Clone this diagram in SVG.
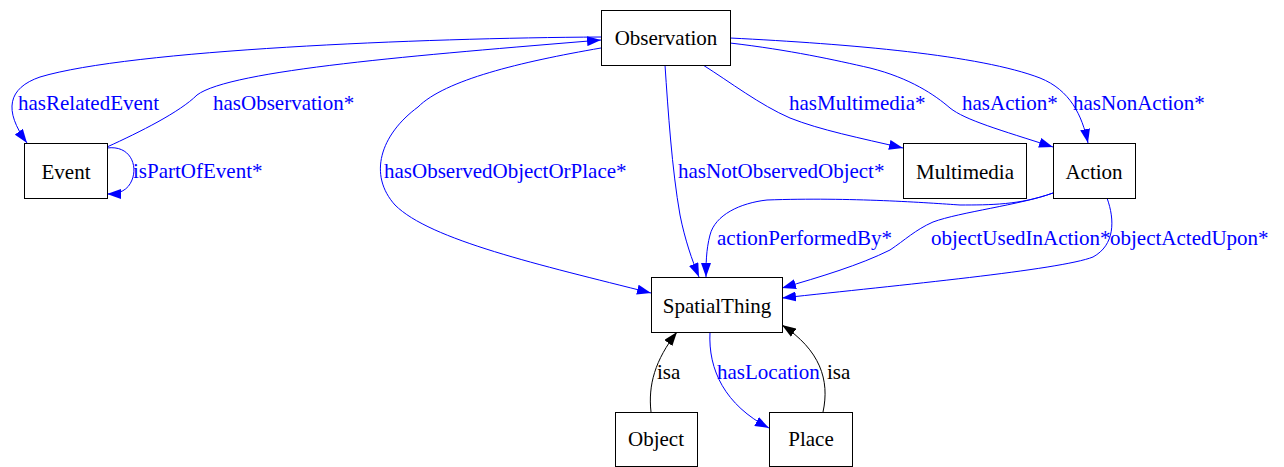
<svg xmlns="http://www.w3.org/2000/svg" width="1284" height="467" viewBox="0 0 1284 467">
<style>
.node rect{fill:#fff;stroke:#000;stroke-width:1}
.node text{font-family:"Liberation Serif","Times New Roman",serif;font-size:21px;fill:#000;text-anchor:middle}
.e{fill:none;stroke:#0000ff;stroke-width:1}
.k{fill:none;stroke:#000;stroke-width:1}
.lb{font-family:"Liberation Serif","Times New Roman",serif;font-size:21px;fill:#0000ff}
.lk{font-family:"Liberation Serif","Times New Roman",serif;font-size:21px;fill:#000}
</style>
<defs>
<marker id="ab" markerUnits="userSpaceOnUse" markerWidth="14" markerHeight="10" refX="14" refY="5" orient="auto"><path d="M0,0 L14,5 L0,10 z" fill="#0000ff"/></marker>
<marker id="ak" markerUnits="userSpaceOnUse" markerWidth="14" markerHeight="10" refX="14" refY="5" orient="auto"><path d="M0,0 L14,5 L0,10 z" fill="#000"/></marker>
</defs>
<rect width="1284" height="467" fill="#fff"/>
<g id="connectors">
<path class="e" marker-end="url(#ab)" d="M601,37 C420,38 130,50 40,77 C8,88 3,110 27,143"/>
<path class="e" marker-end="url(#ab)" d="M107,147 C140,132 180,112 197,95 C230,70 420,55 601,40"/>
<path class="e" marker-end="url(#ab)" d="M107,148 C130,145 138,165 132,180 C128,190 120,194 107,194"/>
<path class="e" marker-end="url(#ab)" d="M601,48 C520,62 445,80 418,107 C380,135 368,175 395,205 C430,240 540,265 651,293"/>
<path class="e" marker-end="url(#ab)" d="M665,65 C668,110 672,170 680,215 C685,240 692,260 699,277"/>
<path class="e" marker-end="url(#ab)" d="M703,65 C730,82 760,105 790,118 C820,130 860,138 903,148"/>
<path class="e" marker-end="url(#ab)" d="M730,43 C790,50 835,60 870,68 C910,78 935,95 950,108 C965,120 1000,130 1053,147"/>
<path class="e" marker-end="url(#ab)" d="M730,38 C850,44 980,55 1040,78 C1070,90 1082,115 1088,143"/>
<path class="e" marker-end="url(#ab)" d="M1053,193 C1020,205 990,205 960,205 C930,203 850,197 767,200 C740,203 715,215 710,235 C706,250 706,265 706,277"/>
<path class="e" marker-end="url(#ab)" d="M1053,193 C1020,205 960,212 933,222 C915,230 905,240 890,250 C860,265 820,277 782,288"/>
<path class="e" marker-end="url(#ab)" d="M1107,198 C1115,220 1115,245 1093,257 C1060,270 900,285 782,298"/>
<path class="k" marker-end="url(#ak)" d="M651,412 C648,385 655,360 677,332"/>
<path class="e" marker-end="url(#ab)" d="M710,332 C708,370 725,405 769,428"/>
<path class="k" marker-end="url(#ak)" d="M823,412 C830,380 820,350 782,325"/>
<text class="lb" x="18" y="110">hasRelatedEvent</text>
<text class="lb" x="213" y="110">hasObservation*</text>
<text class="lb" x="133" y="178">isPartOfEvent*</text>
<text class="lb" x="384" y="178">hasObservedObjectOrPlace*</text>
<text class="lb" x="678" y="178">hasNotObservedObject*</text>
<text class="lb" x="789" y="110">hasMultimedia*</text>
<text class="lb" x="962" y="110">hasAction*</text>
<text class="lb" x="1073" y="110">hasNonAction*</text>
<text class="lb" x="717" y="245">actionPerformedBy*</text>
<text class="lb" x="931" y="245">objectUsedInAction*</text>
<text class="lb" x="1110" y="245">objectActedUpon*</text>
<text class="lk" x="657" y="379">isa</text>
<text class="lb" x="717" y="379">hasLocation</text>
<text class="lk" x="827" y="379">isa</text>
</g>
<g id="Observation" class="node"><rect x="601.5" y="10.5" width="129" height="55"/><text x="666" y="45">Observation</text></g>
<g id="Event" class="node"><rect x="24.5" y="143.5" width="83" height="55"/><text x="66" y="179">Event</text></g>
<g id="Multimedia" class="node"><rect x="903.5" y="143.5" width="123" height="55"/><text x="965" y="179">Multimedia</text></g>
<g id="Action" class="node"><rect x="1053.5" y="143.5" width="82" height="55"/><text x="1094" y="179">Action</text></g>
<g id="SpatialThing" class="node"><rect x="651.5" y="277.5" width="131" height="55"/><text x="717" y="313">SpatialThing</text></g>
<g id="Object" class="node"><rect x="615.5" y="412.5" width="82" height="54"/><text x="656" y="446">Object</text></g>
<g id="Place" class="node"><rect x="769.5" y="412.5" width="83" height="54"/><text x="811" y="446">Place</text></g>
</svg>
